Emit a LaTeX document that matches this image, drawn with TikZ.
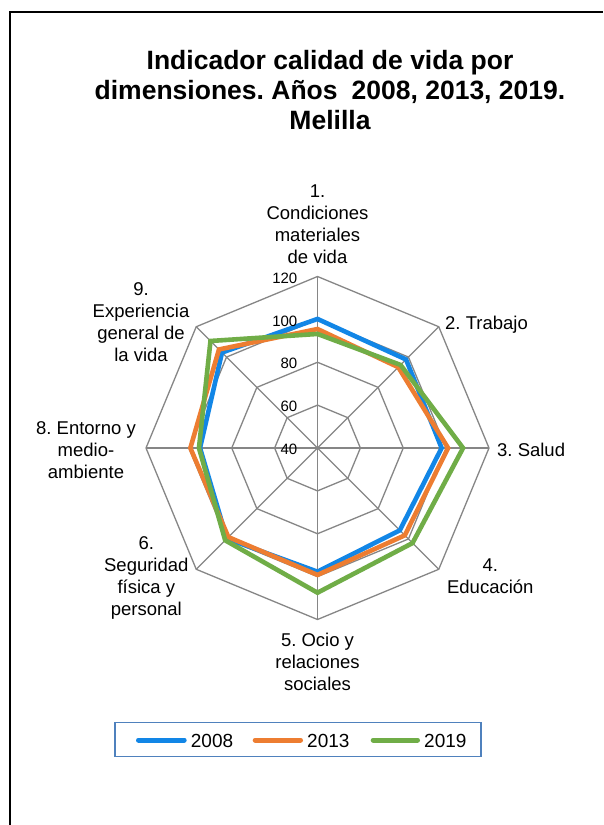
\documentclass[tikz,border=0pt]{standalone}
\usepackage{fontspec}
\setmainfont{Liberation Sans}
\definecolor{s08}{RGB}{18,134,230}
\definecolor{s13}{RGB}{237,125,49}
\definecolor{s19}{RGB}{112,173,71}
\definecolor{gridc}{RGB}{134,134,134}
\definecolor{legc}{RGB}{79,129,189}
\def\radscale{2.14375}
\newcommand\radarpoly[9]{\draw[series,#1] (90:{(#2-40)*\radscale}) -- (45:{(#3-40)*\radscale}) -- (0:{(#4-40)*\radscale}) -- (-45:{(#5-40)*\radscale}) -- (-90:{(#6-40)*\radscale}) -- (-135:{(#7-40)*\radscale}) -- (180:{(#8-40)*\radscale}) -- (135:{(#9-40)*\radscale}) -- cycle;}
\frenchspacing
\begin{document}
\begin{tikzpicture}[x=1pt,y=-1pt,
  gridline/.style={draw=gridc,line width=1.3pt},
  series/.style={line width=4.6pt},
  titlestyle/.style={font=\bfseries\fontsize{26.5}{30}\selectfont, inner sep=0pt, align=center},
  lbl/.style={font=\fontsize{18.5}{22}\selectfont, inner sep=0pt, align=center},
  tick/.style={font=\fontsize{15}{17}\selectfont, inner sep=0pt, anchor=east},
  legtext/.style={font=\fontsize{19}{22}\selectfont, inner sep=0pt, anchor=base west},
  legline/.style={line width=5pt, line cap=round}]
\useasboundingbox (0,0) rectangle (603,825);
\fill[white] (0,0) rectangle (603,825);
\draw[line width=1.4pt] (10,825) -- (10,12) -- (603,12);

\node[titlestyle, anchor=north] (title) at (330,50) {Indicador calidad de vida por\\dimensiones. Años\hspace{0.25em} 2008, 2013, 2019.\\Melilla};

\begin{scope}[shift={(317.5,448)}, y=1pt]
  \foreach \v in {60,80,100,120} {
    \pgfmathsetmacro\rr{(\v-40)*\radscale}
    \draw[gridline] (90:\rr) -- (45:\rr) -- (0:\rr) -- (-45:\rr) -- (-90:\rr) -- (-135:\rr) -- (180:\rr) -- (135:\rr) -- cycle;
  }
  \coordinate (ctr) at (0,0);
  \foreach \a/\n in {90/1,45/2,0/3,-45/4,-90/5,-135/6,180/8,135/9} {
    \coordinate (ax\n) at (\a:171.5);
    \draw[gridline] (ctr) -- (ax\n);
  }
  \radarpoly{s08}{100.2}{98.4}{97.9}{94.3}{97.7}{99.8}{94.8}{103}
  \radarpoly{s13}{95.5}{93.3}{100.9}{97.6}{99.2}{98.8}{99.3}{105}
  \radarpoly{s19}{93.2}{94.8}{107.9}{102.7}{107.5}{100.9}{95.3}{110.6}
\end{scope}

\node[tick] (t120) at (297.5,278) {120};
\node[tick] (t100) at (297.5,320.9) {100};
\node[tick] (t80) at (297.5,363.8) {80};
\node[tick] (t60) at (297.5,406.6) {60};
\node[tick] (t40) at (297.5,449.5) {40};

\node[lbl, anchor=north] (l1) at (317.5,184.6) {1.\\Condiciones\\materiales\\de vida};
\node[lbl, anchor=base west] (l2) at (445,329) {2. Trabajo};
\node[lbl, anchor=base west] (l3) at (497,456.7) {3. Salud};
\node[lbl, anchor=north] (l4) at (490.3,558.3) {4.\\Educación};
\node[lbl, anchor=north] (l5) at (317.5,633) {5. Ocio y\\relaciones\\sociales};
\node[lbl, anchor=north] (l6) at (146.3,536.6) {6.\\Seguridad\\física y\\personal};
\node[lbl, anchor=north] (l8) at (86,421.6) {8. Entorno y\\medio-\\ambiente};
\node[lbl, anchor=north] (l9) at (141,282.6) {9.\\Experiencia\\general de\\la vida};

\node[draw=legc, line width=1.2pt, minimum width=366pt, minimum height=34pt, inner sep=0pt, outer sep=0pt, anchor=north west] (leg) at (115,722.7) {};
\coordinate (la1) at (138.5,740); \coordinate (la2) at (184.2,740);
\coordinate (lb1) at (255.2,740); \coordinate (lb2) at (300.5,740);
\coordinate (lc1) at (373.2,740); \coordinate (lc2) at (417.5,740);
\draw[legline,s08] (la1) -- (la2);
\draw[legline,s13] (lb1) -- (lb2);
\draw[legline,s19] (lc1) -- (lc2);
\node[legtext] (k08) at (190.7,747.7) {2008};
\node[legtext] (k13) at (307,747.7) {2013};
\node[legtext] (k19) at (424,747.7) {2019};
\end{tikzpicture}
\end{document}
